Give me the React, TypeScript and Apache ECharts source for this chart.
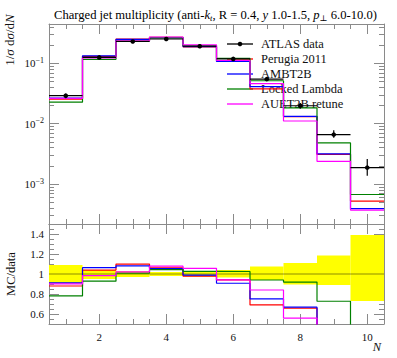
import React, { useEffect, useRef } from 'react';
import * as echarts from 'echarts';

// ---- data ----
const bins = [1, 2, 3, 4, 5, 6, 7, 8, 9, 10];
const atlasData = [0.0292, 0.126, 0.232, 0.255, 0.193, 0.119, 0.055, 0.0199, 0.0066, 0.00187];
const atlasErrUp = [0.09, 0.04, 0.03, 0.02, 0.03, 0.04, 0.075, 0.11, 0.185, 0.39];
const atlasErrDown = [0.09, 0.05, 0.03, 0.02, 0.025, 0.035, 0.06, 0.105, 0.11, 0.27];
const perugia2011 = [0.0257, 0.131, 0.255, 0.271, 0.189, 0.112, 0.038, 0.0131, 0.0031, 0.00052];
const ambt2b = [0.0266, 0.134, 0.251, 0.269, 0.191, 0.108, 0.0413, 0.0133, 0.00317, 0.00039];
const lockedLambda = [0.0228, 0.117, 0.234, 0.266, 0.198, 0.122, 0.0517, 0.0183, 0.0048, 0.00067];
const auet2bRetune = [0.0263, 0.124, 0.237, 0.275, 0.204, 0.112, 0.0462, 0.0111, 0.00238, 0.00037];
const xTickLabels = [2, 4, 6, 8, 10];
const xMinorTicks = [1, 1.5, 2.5, 3, 3.5, 4.5, 5, 5.5, 6.5, 7, 7.5, 8.5, 9, 9.5];
const ratioTickLabels = [0.6, 0.8, 1, 1.2, 1.4];
const ratioMinorTicks = [0.55, 0.65, 0.7, 0.75, 0.85, 0.9, 0.95, 1.05, 1.1, 1.15, 1.25, 1.3, 1.35, 1.45];

const X_MIN = 0.5;
const X_MAX = 10.5;
const Y_MIN = 2.17e-4;
const Y_MAX = 0.452;
const R_MIN = 0.5;
const R_MAX = 1.5;

const FONT = '"Liberation Serif", "DejaVu Serif", serif';
const AX = '#8a8a8a';
const TXT = '#111';

const mcStyles = [
  { name: 'Perugia 2011', values: perugia2011, color: '#ff0000' },
  { name: 'AMBT2B', values: ambt2b, color: '#0000ff' },
  { name: 'Locked Lambda', values: lockedLambda, color: '#008000' },
  { name: 'AUET2B retune', values: auet2bRetune, color: '#ff00ff' },
];

const stepPoints = (vals: number[]) =>
  bins.flatMap((b, i) => [
    [b - 0.5, vals[i]],
    [b + 0.5, vals[i]],
  ]);

// minor ticks of the log axis, in log10 units (helper axis)
const logMinor: number[] = [];
for (let n = -4; n <= -1; n++) {
  for (let k = 2; k <= 9; k++) {
    const v = k * Math.pow(10, n);
    if (v > Y_MIN && v < Y_MAX) logMinor.push(Math.log10(v));
  }
}

function mkX(gridIndex: number, position: string, ticks: number[], len: number, line: boolean, labels = false) {
  return {
    type: 'value',
    gridIndex,
    position,
    min: X_MIN,
    max: X_MAX,
    axisLine: { show: line, onZero: false, lineStyle: { color: AX, width: 1 } },
    axisTick: { show: true, inside: true, length: len, customValues: ticks, lineStyle: { color: AX, width: 1 } },
    axisLabel: labels
      ? { show: true, customValues: ticks, margin: 7, color: TXT, fontFamily: FONT, fontSize: 11 }
      : { show: false },
    splitLine: { show: false },
  };
}

function mkRatioY(position: string, ticks: number[], len: number, line: boolean, labels = false) {
  return {
    type: 'value',
    gridIndex: 1,
    position,
    min: R_MIN,
    max: R_MAX,
    axisLine: { show: line, onZero: false, lineStyle: { color: AX, width: 1 } },
    axisTick: { show: true, inside: true, length: len, customValues: ticks, lineStyle: { color: AX, width: 1 } },
    axisLabel: labels
      ? { show: true, customValues: ticks, margin: 5, color: TXT, fontFamily: FONT, fontSize: 11 }
      : { show: false },
    splitLine: { show: false },
  };
}

function mkLogMinor(position: string) {
  return {
    type: 'value',
    gridIndex: 0,
    position,
    min: Math.log10(Y_MIN),
    max: Math.log10(Y_MAX),
    axisLine: { show: false, onZero: false },
    axisTick: { show: true, inside: true, length: 5, customValues: logMinor, lineStyle: { color: AX, width: 1 } },
    axisLabel: { show: false },
    splitLine: { show: false },
  };
}

function mkLogMajor(position: string, labels: boolean) {
  return {
    type: 'log',
    logBase: 10,
    gridIndex: 0,
    position,
    min: Y_MIN,
    max: Y_MAX,
    axisLine: { show: true, onZero: false, lineStyle: { color: AX, width: 1 } },
    axisTick: { show: true, inside: true, length: 10, lineStyle: { color: AX, width: 1 } },
    minorTick: { show: false },
    axisLabel: labels
      ? {
          show: true,
          margin: 5,
          showMinLabel: false,
          showMaxLabel: false,
          color: TXT,
          fontFamily: FONT,
          fontSize: 11,
          formatter: (v: number) => {
            const e = Math.log10(v);
            if (Math.abs(e - Math.round(e)) > 1e-6) return '';
            return '{b|10}{s|\u2212' + Math.abs(Math.round(e)) + '}';
          },
          rich: {
            b: { fontFamily: FONT, fontSize: 11, color: TXT, lineHeight: 14 },
            s: { fontFamily: FONT, fontSize: 8, color: TXT, verticalAlign: 'top', lineHeight: 8 },
          },
        }
      : { show: false },
    splitLine: { show: false },
  };
}

export default function App() {
  const ref = useRef<HTMLDivElement>(null);

  useEffect(() => {
    if (!ref.current) return;
    const chart = echarts.init(ref.current, undefined, { renderer: 'svg' });

    const mainLines = mcStyles.map((s, i) => ({
      type: 'line',
      name: s.name,
      xAxisIndex: 0,
      yAxisIndex: 0,
      data: stepPoints(s.values),
      showSymbol: false,
      symbol: 'none',
      lineStyle: { color: s.color, width: 1.2 },
      itemStyle: { color: s.color },
      z: 3 + i,
    }));

    const ratioLines = mcStyles.map((s, i) => ({
      type: 'line',
      name: s.name + ' ratio',
      xAxisIndex: 4,
      yAxisIndex: 4,
      data: stepPoints(s.values.map((v, j) => v / atlasData[j])),
      showSymbol: false,
      symbol: 'none',
      clip: true,
      lineStyle: { color: s.color, width: 1.2 },
      itemStyle: { color: s.color },
      z: 5 + i,
    }));

    const legendRows = [{ name: 'ATLAS data', color: '#000' }, ...mcStyles];
    const legendGraphics: any[] = [];
    legendRows.forEach((r, i) => {
      const y = 44 + 15 * i;
      legendGraphics.push({
        type: 'line',
        shape: { x1: 227, y1: y, x2: 253, y2: y },
        style: { stroke: r.color, lineWidth: 1.3 },
      });
      if (i === 0) {
        legendGraphics.push({ type: 'circle', shape: { cx: 240, cy: y, r: 2.3 }, style: { fill: '#000' } });
      }
      legendGraphics.push({
        type: 'text',
        x: 261,
        y: y,
        style: { text: r.name, fill: TXT, fontFamily: FONT, fontSize: 12.5, verticalAlign: 'middle', align: 'left' },
      });
    });

    const option: any = {
      animation: false,
      backgroundColor: '#ffffff',
      title: {
        text: 'Charged jet multiplicity (anti-{i|k}{sub|t}, R = 0.4, {i|y} 1.0-1.5, {i|p}{sub2|\u22a5} 6.0-10.0)',
        left: 49,
        top: 3,
        textStyle: {
          fontFamily: FONT,
          fontSize: 12.6,
          fontWeight: 'normal',
          color: '#000',
          lineHeight: 14,
          rich: {
            i: { fontFamily: FONT, fontSize: 12.6, fontStyle: 'italic', color: '#000', lineHeight: 14 },
            sub: { fontFamily: FONT, fontSize: 8.5, fontStyle: 'italic', color: '#000', verticalAlign: 'bottom', lineHeight: 8 },
            sub2: { fontFamily: FONT, fontSize: 8.5, color: '#000', verticalAlign: 'bottom', lineHeight: 8 },
          },
        },
      },
      grid: [
        { left: 49, top: 24, width: 335, height: 200, containLabel: false },
        { left: 49, top: 224, width: 335, height: 100, containLabel: false },
      ],
      xAxis: [
        mkX(0, 'bottom', xTickLabels, 10, true),
        mkX(0, 'bottom', xMinorTicks, 5, false),
        mkX(0, 'top', xTickLabels, 10, true),
        mkX(0, 'top', xMinorTicks, 5, false),
        mkX(1, 'bottom', xTickLabels, 10, true, true),
        mkX(1, 'bottom', xMinorTicks, 5, false),
        mkX(1, 'top', xTickLabels, 10, true),
        mkX(1, 'top', xMinorTicks, 5, false),
      ],
      yAxis: [
        mkLogMajor('left', true),
        mkLogMinor('left'),
        mkLogMajor('right', false),
        mkLogMinor('right'),
        mkRatioY('left', ratioTickLabels, 10, true, true),
        mkRatioY('left', ratioMinorTicks, 5, false),
        mkRatioY('right', ratioTickLabels, 10, true),
        mkRatioY('right', ratioMinorTicks, 5, false),
      ],
      series: [
        ...mainLines,
        {
          type: 'custom',
          name: 'ATLAS data',
          xAxisIndex: 0,
          yAxisIndex: 0,
          z: 10,
          data: bins.map((b, i) => [
            b,
            atlasData[i],
            atlasData[i] * (1 + atlasErrUp[i]),
            atlasData[i] * (1 - atlasErrDown[i]),
          ]),
          encode: { x: 0, y: [1, 2, 3] },
          renderItem: (params: any, api: any) => {
            const x = api.value(0);
            const v = api.value(1);
            const up = api.value(2);
            const dn = api.value(3);
            const pL = api.coord([x - 0.5, v]);
            const pR = api.coord([x + 0.5, v]);
            const pU = api.coord([x, up]);
            const pD = api.coord([x, dn]);
            const pC = api.coord([x, v]);
            return {
              type: 'group',
              children: [
                { type: 'line', shape: { x1: pL[0], y1: pL[1], x2: pR[0], y2: pR[1] }, style: { stroke: '#000', lineWidth: 1.2 } },
                { type: 'line', shape: { x1: pU[0], y1: pU[1], x2: pD[0], y2: pD[1] }, style: { stroke: '#000', lineWidth: 1.2 } },
                { type: 'circle', shape: { cx: pC[0], cy: pC[1], r: 2.3 }, style: { fill: '#000' } },
              ],
            };
          },
        },
        {
          type: 'custom',
          name: 'ATLAS band',
          xAxisIndex: 4,
          yAxisIndex: 4,
          z: 1,
          data: bins.map((b, i) => [b, 1 + atlasErrUp[i], 1 - atlasErrDown[i]]),
          encode: { x: 0, y: [1, 2] },
          renderItem: (params: any, api: any) => {
            const x = api.value(0);
            const p1 = api.coord([x - 0.5, api.value(1)]);
            const p2 = api.coord([x + 0.5, api.value(2)]);
            const rect = echarts.graphic.clipRectByRect(
              { x: p1[0], y: p1[1], width: p2[0] - p1[0], height: p2[1] - p1[1] },
              params.coordSys
            );
            return { type: 'rect', shape: rect, style: { fill: '#ffff00' } };
          },
        },
        {
          type: 'line',
          name: 'ATLAS ratio',
          xAxisIndex: 4,
          yAxisIndex: 4,
          data: stepPoints(atlasData.map((v) => v / v)),
          showSymbol: false,
          symbol: 'none',
          lineStyle: { color: 'rgba(0,0,0,0.45)', width: 1 },
          z: 2,
        },
        ...ratioLines,
      ],
      graphic: [
        ...legendGraphics,
        {
          type: 'text',
          x: 9,
          y: 40,
          rotation: Math.PI / 2,
          style: {
            text: '1/{i|\u03c3} d{i|\u03c3}/d{i|N}',
            fill: TXT,
            fontFamily: FONT,
            fontSize: 13,
            align: 'center',
            verticalAlign: 'middle',
            rich: { i: { fontFamily: FONT, fontSize: 13, fontStyle: 'italic', fill: TXT } },
          },
        },
        {
          type: 'text',
          x: 11,
          y: 274,
          rotation: Math.PI / 2,
          style: { text: 'MC/data', fill: TXT, fontFamily: FONT, fontSize: 12.5, align: 'center', verticalAlign: 'middle' },
        },
        {
          type: 'text',
          x: 381,
          y: 347,
          style: { text: 'N', fill: TXT, fontFamily: FONT, fontSize: 12.5, fontStyle: 'italic', align: 'right', verticalAlign: 'middle' },
        },
      ],
    };

    chart.setOption(option);
    return () => chart.dispose();
  }, []);

  return <div ref={ref} style={{ position: 'fixed', left: 0, top: 0, width: 397, height: 358 }} />;
}
